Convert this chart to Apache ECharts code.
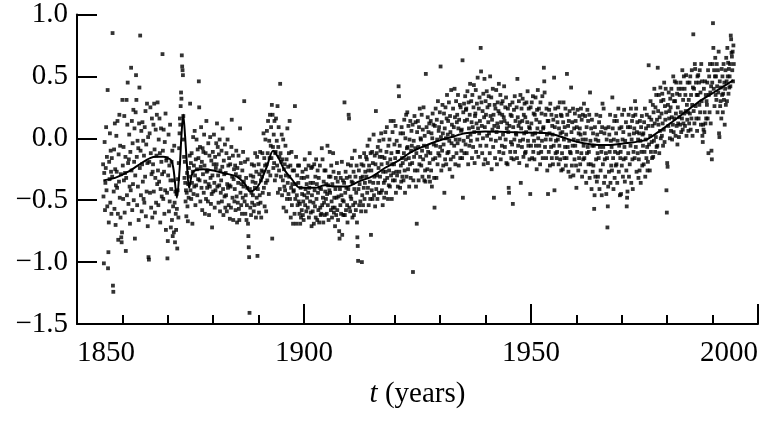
<!DOCTYPE html>
<html>
<head>
<meta charset="utf-8">
<script src="https://cdn.jsdelivr.net/npm/echarts@6/dist/echarts.min.js"></script>
<style>
html,body{margin:0;padding:0;background:#fff;}
#chart{width:766px;height:423px;}
</style>
</head>
<body>
<div id="chart"></div>
<script>
// Monthly anomalies (hundredths of a degree), starting at startYear, one row per year
const startYear = 1855.75;
const monthsPerYear = 12;
const anomalyHundredths = [
-21,-47,-101,-28,-3,-58,-36,-24,9,-42,-15,-55,
39,-105,-92,-68,-19,-33,4,-52,-10,-27,-61,-16,
-31,85,-119,-124,-43,-9,-57,12,-25,-70,-38,2,
-27,-40,14,-61,-82,-13,-35,19,-48,-6,-64,-29,
-80,-84,-76,31,-22,-49,-7,-34,18,-60,-28,-15,
-91,-32,31,-46,11,45,-20,-53,-17,3,-39,-69,
-11,-42,57,-26,14,-58,-4,-37,23,-50,-19,8,
-81,-30,21,51,31,-15,-54,-2,-39,-8,-66,12,
41,-24,83,-10,-46,6,-59,-21,13,-35,-2,-49,
-14,-52,9,-31,22,-63,-5,-43,28,-20,-71,1,
-96,-98,-19,4,-44,25,-12,-56,-29,16,-64,-27,
-21,11,-43,28,-9,-60,-32,7,-52,-14,19,-37,
29,-26,-54,-1,-35,16,-12,-68,-41,8,-19,-47,
-29,68,-10,-49,7,-27,-61,-3,-42,20,-74,-18,
-16,-44,-97,-83,-30,3,-59,-22,-51,11,-34,-72,
-41,-19,-66,-10,-79,-55,-34,-76,-6,-52,-84,-43,
-61,-74,-45,-57,-89,-42,-33,-64,-20,-8,4,16,
11,26,37,32,67,58,55,51,18,-1,-15,-32,
-19,-36,-51,-42,-63,-44,-28,-55,-67,-37,-48,-24,
-31,-14,28,-42,-20,-49,-12,-36,-69,-27,1,-45,
-22,-39,6,-30,-54,-17,-38,-1,-25,-46,-9,-33,
-16,46,25,-34,-7,-51,-23,9,-40,-19,-58,-8,
-29,-11,-44,3,-22,-61,-35,-12,-49,14,-27,-40,
-26,-51,-4,-37,-62,-14,-39,1,-32,-53,-18,-45,
-72,-30,-11,-43,-21,3,-36,-56,-15,-42,-24,-4,
-21,12,-39,-7,-30,-52,-13,-38,-1,-59,-26,-44,
-34,-10,-51,-23,8,-41,-62,-18,-29,-47,-5,-56,
-28,-46,-12,-59,-37,-1,-40,-22,-54,-16,-38,-65,
-21,-39,-56,-7,15,-31,-48,-14,-66,-33,-25,-51,
-41,-22,-58,-29,-10,-47,-68,-24,-52,-36,-14,-57,
-66,-31,8,-44,-20,-54,-37,-61,-26,-48,-11,-39,
-35,30,-51,-19,-61,-46,-32,-66,-54,-40,-17,-69,
-79,-88,-96,-141,-41,-56,-30,-62,-44,-21,-52,-35,
-46,-31,-59,-22,-54,-40,-12,-36,-64,-27,-48,-15,
-95,-41,-53,-21,-60,-29,-46,-11,-52,-34,-64,-26,
-31,-12,-44,-27,4,-40,-16,-55,-22,-1,-36,-59,
-21,6,-34,-12,14,-27,-45,-2,-16,19,-30,-6,
9,-16,27,-81,19,-7,-24,3,-20,14,-34,-12,
-11,16,-30,-2,-22,26,-44,-7,9,-26,-15,-41,
44,-12,-31,-19,3,-46,-17,-34,-1,-56,-25,-39,
-21,-42,-6,-30,-59,-17,-49,8,-36,-23,-45,-12,
-31,14,-49,-22,-64,-40,-11,-54,-37,-26,-69,-43,
-42,-26,-61,26,-49,-37,-15,-69,-46,-30,-54,-22,
-36,-51,-22,-61,-53,-69,-40,-64,-32,-58,-45,-27,
-62,-51,-66,-32,-46,-17,-54,-41,-25,-59,-37,-48,
-31,-56,-44,-22,-64,-40,-12,-51,-36,-60,-24,-71,
-46,-23,-59,-36,-52,-69,-21,-42,-55,-31,-64,-17,
-49,-37,-66,-26,-44,-58,-32,-68,-40,-22,-56,-62,
-41,-61,-8,-54,-17,-48,-68,-35,-52,-26,-62,-43,
-26,-49,-37,-61,-45,-6,-54,-38,-66,-31,-42,-11,
-44,-31,-58,-22,-51,-64,-37,-56,-12,-27,-60,-48,
-56,-71,-41,-32,-62,-48,-20,-58,-35,-66,-47,-28,
-75,-81,-41,-54,-32,-61,-46,-19,-78,-50,-34,-62,
-51,-36,29,-62,-44,-27,-58,-40,-32,-54,-68,-21,
-41,19,16,-56,-31,-59,-47,-22,-49,-35,-16,-64,
-36,-54,-27,-62,-41,-10,-52,-31,-58,-44,-22,-68,
-80,-87,-99,-41,-26,-54,-37,-15,-51,-32,-59,-21,
-100,-46,-31,-54,-22,-40,-12,-49,-36,-27,-59,-15,
-31,-17,-44,-6,-40,-26,-54,-22,-1,-35,-49,-12,
-78,-26,-42,-11,-49,-20,-36,3,-46,-31,-14,-55,
-21,22,-41,-12,-30,-49,-7,-36,-24,-44,-2,-15,
-31,-10,-44,4,-21,-42,-15,-54,-27,-1,-36,-48,
-16,-34,5,-27,-44,-11,9,-32,-20,-49,-6,-38,
-26,-1,-39,-17,14,-30,-12,-49,-21,5,-34,-28,
14,-21,-5,-34,-16,10,-44,-27,-2,-30,-11,-39,
-11,42,34,-27,-6,-40,4,-22,-35,9,-16,-31,
-20,4,-34,-12,15,-26,-44,0,-17,19,-31,-8,
21,-7,-25,10,-16,-39,-1,-21,14,-32,-10,6,
-6,-20,11,-108,-34,-2,-15,18,-26,-8,13,-39,
-12,-69,5,-26,14,-7,-34,9,-21,24,-15,0,
-1,-22,19,-10,-31,7,-17,25,-6,-34,2,-26,
-35,52,-14,9,-7,-25,17,-11,5,-31,12,-20,
-35,-12,14,-26,4,-39,0,20,-17,11,-5,-32,
-56,10,-16,24,-6,-32,15,-1,-21,30,-12,6,
9,-14,21,-7,58,1,-26,13,-10,27,4,-22,
-5,20,-44,8,-17,25,0,-21,16,35,-12,3,
14,-11,29,-2,-25,18,5,-17,39,-4,11,-31,
2,24,-15,9,-6,40,17,-21,-1,30,-12,13,
19,-4,35,8,-22,15,-1,27,-16,25,6,-10,
7,-16,63,-48,21,-2,28,-12,14,34,-5,23,
24,-12,15,38,1,-21,29,8,-6,19,44,3,
-2,30,13,-16,35,9,-7,25,43,5,-20,18,
20,39,-11,12,28,-1,49,8,-15,24,4,33,
14,-6,73,54,29,10,-12,22,0,36,-21,17,
48,9,-17,30,19,-6,38,2,25,-20,13,34,
4,27,-12,50,18,-1,33,-25,15,7,40,-7,
19,-48,10,27,-16,24,-2,39,5,-21,12,29,
9,22,44,-11,20,0,35,-17,13,28,-6,19,
30,3,-12,17,42,14,-7,25,-1,33,-20,8,
12,-21,24,5,-40,-44,10,27,-11,19,-3,-16,
18,-5,29,-53,9,-17,23,-1,34,-11,14,4,
3,25,-16,48,17,-6,10,30,-20,13,-2,35,
-36,8,24,-7,14,32,-1,-15,19,4,28,-12,
17,-11,5,29,-22,13,38,-2,-6,24,9,-17,
8,-45,25,-6,12,29,-16,3,34,-11,20,-2,
-17,19,4,33,-6,15,-25,23,8,39,0,-12,
24,-6,13,-21,29,5,-11,20,-2,34,-16,8,
9,57,46,37,-7,19,-1,-16,24,3,-26,14,
-45,14,-11,23,4,-22,28,-1,-7,19,-16,10,
3,-21,15,-6,49,-42,9,24,-12,-2,18,-16,
-11,13,-1,25,-21,8,-6,29,-17,4,19,-26,
18,-12,5,-25,13,29,-1,-16,9,-7,24,-22,
3,-16,52,19,-7,10,-27,14,-2,22,-11,-31,
-12,41,5,-22,13,-6,24,-30,-1,8,-17,20,
-6,14,-22,-40,9,-11,23,-2,-26,4,-16,18,
8,-21,3,24,-12,15,-31,-1,19,-17,-6,28,
-16,4,18,-27,-1,-36,9,-12,23,-7,14,-21,
-11,19,-32,37,-2,-21,8,-41,15,-6,-27,4,
-22,-6,-57,-46,9,-31,-1,-17,19,-35,3,-12,
-31,-2,-16,13,-41,-7,18,-26,5,-11,-46,9,
28,-21,-7,24,-36,4,-17,-31,8,-12,-45,-1,
-16,-72,-55,-39,9,-27,3,-11,19,-36,-2,-22,
-7,-26,33,8,-16,-41,-1,14,-32,-11,18,-22,
4,-21,14,-36,-2,-12,24,-27,-6,8,-46,-16,
-11,-45,9,-22,19,-1,-31,5,-17,23,-7,-35,
-2,-16,13,-26,-55,-48,-43,9,-12,19,-31,3,
-21,9,-6,24,-36,-1,14,-17,-41,18,-11,4,
8,-16,30,19,-7,24,-27,5,13,-12,-1,-32,
-17,4,-26,14,-2,-36,9,-11,18,-22,3,-6,
4,-21,13,-11,24,-31,-1,8,-16,19,-7,-26,
-19,10,59,-5,17,-26,2,30,-11,15,-3,-16,
10,27,-15,21,-2,40,12,-11,25,1,35,-7,
15,-6,57,22,11,35,-12,17,6,41,0,30,
20,2,36,12,-6,31,7,45,-3,26,15,40,
21,-42,-60,-20,-23,27,10,37,16,22,0,32,
25,6,40,17,-1,35,11,50,5,30,16,46,
30,2,20,45,10,36,-5,25,12,40,1,17,
35,11,45,21,5,40,16,55,7,31,12,50,
20,40,10,35,22,51,2,27,15,45,21,6,
31,12,45,20,50,7,35,16,55,27,2,41,
84,22,40,12,60,56,26,45,16,35,6,50,
35,51,16,45,27,55,21,37,11,60,30,46,
2,-3,11,7,40,5,21,46,12,35,16,30,
27,45,16,55,-12,35,50,21,60,37,12,42,
-10,-17,45,60,93,73,40,55,26,50,65,35,
50,31,60,42,21,55,37,70,4,1,46,26,
30,41,16,56,35,50,21,36,60,31,45,11,
40,55,27,65,46,30,73,50,61,36,56,41,
50,60,42,83,80,69,66,55,70,46,75,60
];

// Smoothed trend
const smoothYears = [1855.8,1858.4,1861.3,1864.2,1866.1,1867.5,1869.0,1870.0,1870.8,1871.3,1872.0,1872.6,1873.0,1873.4,1873.8,1874.2,1874.7,1875.6,1877.8,1880.0,1882.2,1885.2,1887.0,1888.1,1889.3,1890.3,1891.8,1893.2,1894.4,1895.6,1897.3,1899.1,1902.4,1904.6,1906.8,1909.4,1912.0,1914.9,1917.8,1920.8,1923.7,1926.7,1929.6,1932.5,1935.5,1939.9,1945.0,1950.9,1953.8,1956.8,1959.7,1963.4,1967.0,1970.7,1975.1,1978.0,1981.0,1983.9,1986.8,1989.8,1994.6];
const smoothValues = [-0.34,-0.32,-0.27,-0.20,-0.16,-0.15,-0.15,-0.16,-0.18,-0.26,-0.48,-0.25,0.02,0.19,0.02,-0.20,-0.40,-0.27,-0.25,-0.26,-0.28,-0.31,-0.37,-0.43,-0.41,-0.36,-0.23,-0.10,-0.16,-0.25,-0.33,-0.40,-0.40,-0.38,-0.39,-0.39,-0.35,-0.31,-0.24,-0.18,-0.11,-0.06,-0.02,0.01,0.04,0.055,0.05,0.045,0.04,0.01,-0.025,-0.05,-0.055,-0.04,-0.015,0.05,0.13,0.21,0.29,0.36,0.47];

const xTicks = [1850, 1900, 1950, 2000];
const yTicks = [-1.5, -1.0, -0.5, 0.0, 0.5, 1.0];

const scatterData = anomalyHundredths.map((v, i) => [startYear + i / monthsPerYear, v / 100]);
const lineData = smoothYears.map((y, i) => [y, smoothValues[i]]);

const FONT = '"Liberation Serif", "DejaVu Serif", serif';
const labelRich = {s: {fontFamily: FONT, fontSize: 29, color: '#000'}};
const chart = echarts.init(document.getElementById('chart'), null, {renderer: 'canvas'});
chart.setOption({
  backgroundColor: '#fff',
  animation: false,
  textStyle: {fontFamily: FONT, color: '#000'},
  grid: {left: 77, right: 8, top: 11, bottom: 99, containLabel: false},
  xAxis: {
    type: 'value',
    min: xTicks[0], max: xTicks[xTicks.length - 1], interval: 50,
    name: '{i|t} {s|(years)}',
    nameLocation: 'middle',
    nameGap: 56,
    nameTextStyle: {
      fontFamily: FONT, fontSize: 29, color: '#000',
      rich: {
        i: {fontFamily: FONT, fontSize: 29, fontStyle: 'italic', color: '#000'},
        s: {fontFamily: FONT, fontSize: 29, color: '#000'}
      }
    },
    axisLine: {show: true, onZero: false, lineStyle: {color: '#000', width: 2}},
    axisTick: {show: true, inside: true, length: 20, lineStyle: {color: '#000', width: 2}},
    minorTick: {show: true, splitNumber: 5, length: 9, lineStyle: {color: '#000', width: 2}},
    splitLine: {show: false},
    minorSplitLine: {show: false},
    axisLabel: {
      fontFamily: FONT, fontSize: 29, color: '#000', margin: 15,
      alignMinLabel: 'left', alignMaxLabel: 'right',
      formatter: v => '{s|' + String(v) + '}',
      rich: labelRich
    }
  },
  yAxis: {
    type: 'value',
    min: yTicks[0], max: yTicks[yTicks.length - 1], interval: 0.5,
    axisLine: {show: true, onZero: false, lineStyle: {color: '#000', width: 2}},
    axisTick: {show: true, inside: true, length: 20, lineStyle: {color: '#000', width: 2}},
    splitLine: {show: false},
    axisLabel: {
      fontFamily: FONT, fontSize: 29, color: '#000', margin: 9,
      formatter: v => '{s|' + (v < 0 ? '\u2212' : '') + Math.abs(v).toFixed(1) + '}',
      rich: labelRich
    }
  },
  series: [
    {
      type: 'scatter',
      data: scatterData,
      symbol: 'rect',
      symbolSize: 3.8,
      itemStyle: {color: '#000'},
      silent: true,
      z: 2
    },
    {
      type: 'line',
      data: lineData,
      showSymbol: false,
      smooth: 0.3,
      lineStyle: {color: '#000', width: 2},
      silent: true,
      z: 3
    }
  ]
});
</script>
</body>
</html>
